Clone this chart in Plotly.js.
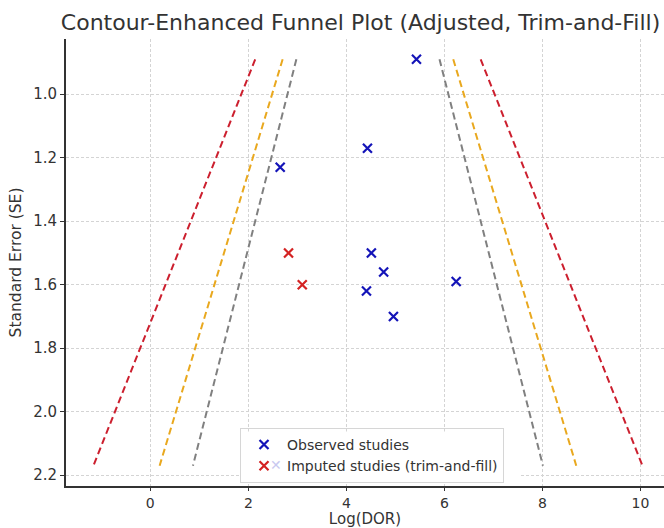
<!DOCTYPE html>
<html>
<head>
<meta charset="utf-8">
<script src="https://cdn.plot.ly/plotly-3.0.1.min.js"></script>
<style>html,body{margin:0;padding:0;background:#fff;}#chart{width:664px;height:528px;}</style>
</head>
<body>
<div id="chart"></div>
<script>
// Observed studies
const obsLogDOR = [5.43, 4.43, 2.65, 4.51, 4.76, 4.41, 6.24, 4.96];
const obsSE     = [0.89, 1.17, 1.23, 1.50, 1.56, 1.62, 1.59, 1.70];
// Imputed studies (trim-and-fill)
const impLogDOR = [2.82, 3.10];
const impSE     = [1.50, 1.60];
// Contour lines (endpoints): SE top/bottom
const contourSE = [0.89, 2.17];
const red99Left   = [2.14, -1.16];
const red99Right  = [6.74, 10.04];
const orn95Left   = [2.70, 0.19];
const orn95Right  = [6.18, 8.69];
const gry90Left   = [2.98, 0.87];
const gry90Right  = [5.90, 8.01];
const xTicks = [0, 2, 4, 6, 8, 10];
const yTicks = [1.0, 1.2, 1.4, 1.6, 1.8, 2.0, 2.2];

const font = "DejaVu Sans, sans-serif";
function cline(x, color) {
  return {x: x, y: contourSE, mode: 'lines', showlegend: false, hoverinfo: 'skip',
    line: {color: color, width: 2, dash: '7px,4px'}};
}
const traces = [
  cline(red99Left, '#cc1f2e'), cline(red99Right, '#cc1f2e'),
  cline(orn95Left, '#e9a81e'), cline(orn95Right, '#e9a81e'),
  cline(gry90Left, '#808080'), cline(gry90Right, '#808080'),
  {x: obsLogDOR, y: obsSE, mode: 'markers', name: 'Observed studies',
   marker: {symbol: 'x-thin', size: 9, color: '#1414b8', line: {width: 2.2, color: '#1414b8'}}},
  {x: impLogDOR, y: impSE, mode: 'markers', name: 'Imputed studies (trim-and-fill)',
   marker: {symbol: 'x-thin', size: 9, color: '#d42222', line: {width: 2.2, color: '#d42222'}}}
];
const layout = {
  width: 664, height: 528,
  margin: {l: 66, r: 0, t: 39, b: 42},
  paper_bgcolor: '#fff', plot_bgcolor: '#fff',
  font: {family: font, color: '#333', size: 15},
  title: {text: 'Contour-Enhanced Funnel Plot (Adjusted, Trim-and-Fill)', font: {size: 22, family: font, color: '#333'},
    x: 0.543, xanchor: 'center', y: 0.958, yanchor: 'middle'},
  xaxis: {range: [-1.72, 10.48], tickvals: xTicks, ticktext: xTicks.map(String),
    title: {text: 'Log(DOR)', font: {size: 15}, standoff: 5},
    tickfont: {size: 14},
    showgrid: true, gridcolor: '#d4d4d4', griddash: '3px,2px', gridwidth: 1,
    showline: true, linecolor: '#333', linewidth: 2, mirror: false,
    ticks: 'outside', ticklen: 3, tickcolor: '#333', zeroline: false},
  yaxis: {range: [2.234, 0.826], tickvals: yTicks, ticktext: yTicks.map(v => v.toFixed(1)),
    title: {text: 'Standard Error (SE)', font: {size: 15.5}, standoff: 8},
    tickfont: {size: 15},
    showgrid: true, gridcolor: '#d4d4d4', griddash: '3px,2px', gridwidth: 1,
    showline: true, linecolor: '#333', linewidth: 2, mirror: false,
    ticks: 'outside', ticklen: 4, tickcolor: '#333', zeroline: false},
  legend: {x: 0.291, y: 0.007, xanchor: 'left', yanchor: 'bottom',
    bgcolor: 'rgba(255,255,255,0)', bordercolor: '#d6d6d6', borderwidth: 1,
    font: {size: 14, family: font, color: '#333'}, tracegroupgap: 0, itemwidth: 36},
  shapes: [{type: 'rect', xref: 'paper', yref: 'paper', layer: 'above',
    x0: 0.291, x1: 0.76, y0: 0.008, y1: 0.122, fillcolor: '#fff', line: {width: 0}}],
  annotations: [{xref: 'paper', yref: 'paper', x: 0.3515, y: 0.046, xanchor: 'center', yanchor: 'middle',
    text: '✕', showarrow: false, font: {size: 14, color: '#c9c9f0', family: font}}]
};
Plotly.newPlot('chart', traces, layout, {displayModeBar: false, staticPlot: true});
</script>
</body>
</html>
